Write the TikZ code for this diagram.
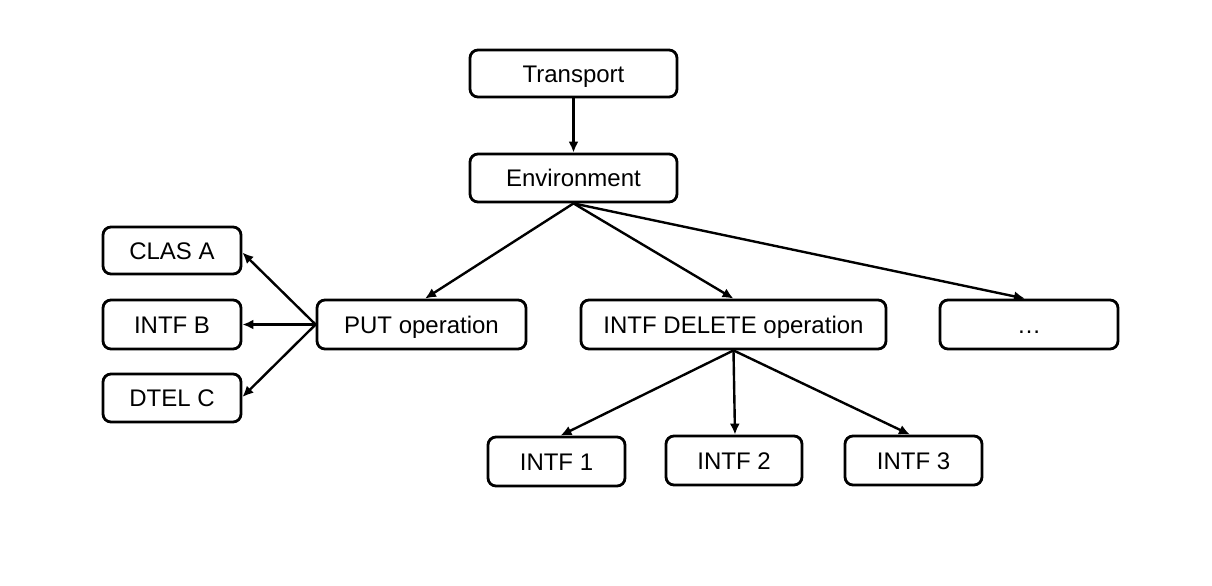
\documentclass[tikz,border=0pt]{standalone}
\usepackage{fontspec}
\setmainfont{Liberation Sans}
\usetikzlibrary{arrows.meta}
\begin{document}
\begin{tikzpicture}[x=0.5pt,y=-0.5pt,
  box/.style={draw=black,line width=1.4pt,rounded corners=4pt,fill=white,inner sep=0pt,text height=8.6pt,text depth=0pt,font=\fontsize{12}{14}\selectfont},
  conn/.style={line width=1.2pt,-{Latex[length=5.5pt,width=5pt]}}]
\useasboundingbox[fill=white] (0,0) rectangle (1212,585);
\node[box,minimum width=103.5pt,minimum height=23.5pt] (transport) at (573.5,73.5) {Transport};
\node[box,minimum width=103.5pt,minimum height=24pt] (env) at (573.5,178) {Environment};
\node[box,minimum width=69pt,minimum height=23.5pt] (clas) at (172,250.5) {CLAS A};
\node[box,minimum width=69pt,minimum height=24.5pt] (intfb) at (172,324.5) {INTF B};
\node[box,minimum width=69pt,minimum height=24pt] (dtel) at (172,398) {DTEL C};
\node[box,minimum width=104.5pt,minimum height=24.5pt] (put) at (421.5,324.5) {PUT operation};
\node[box,minimum width=152.5pt,minimum height=24.5pt] (del) at (733.5,324.5) {INTF DELETE operation};
\node[box,minimum width=89pt,minimum height=24.5pt] (more) at (1029,324.5) {…};
\node[box,minimum width=68.5pt,minimum height=24.5pt] (i1) at (556.5,461.5) {INTF 1};
\node[box,minimum width=68pt,minimum height=24.5pt] (i2) at (734,460.5) {INTF 2};
\node[box,minimum width=68.5pt,minimum height=24.5pt] (i3) at (913.5,460.5) {INTF 3};
\draw[conn] (transport.south) -- (env.north);
\draw[conn] (env.south) -- ([xshift=1.75pt]put.north);
\draw[conn] (env.south) -- (del.north);
\draw[conn] (env.south) -- ([xshift=-2pt]more.north);
\draw[conn] (put.west) -- ([yshift=-1pt]clas.east);
\draw[conn] (put.west) -- (intfb.east);
\draw[conn] (put.west) -- ([yshift=0.5pt]dtel.east);
\draw[conn] (del.south) -- ([xshift=2pt]i1.north);
\draw[conn] (del.south) -- ([xshift=0.5pt]i2.north);
\draw[conn] (del.south) -- ([xshift=-1.75pt]i3.north);
\end{tikzpicture}
\end{document}
